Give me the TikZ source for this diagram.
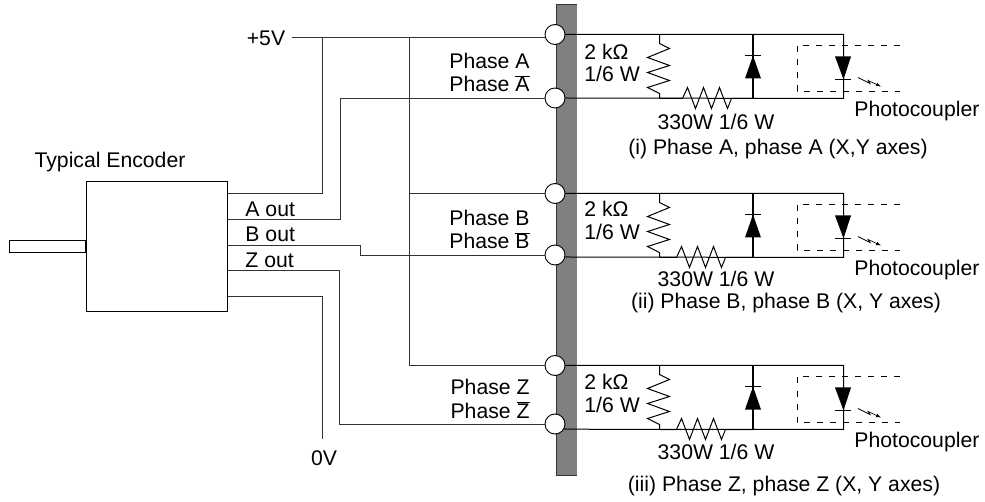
\documentclass[tikz,border=0pt]{standalone}
\usepackage{fontspec}
\setmainfont{Liberation Sans}
\begin{document}
\begin{tikzpicture}[x=1pt,y=-1pt,line width=0.9pt,
wire/.style = {draw=black!80},
load/.style = {draw=black, line width=1pt},
lbl/.style = {inner sep=0pt, anchor=base, font=\fontsize{21.2}{23}\selectfont},
pin/.style = {circle, draw, fill=white, inner sep=0pt, minimum size=20pt}]
\useasboundingbox (0,0) rectangle (985,502);

\fill[black!50] (556,4) rectangle (577,475);
\draw[wire] (556,475) -- (556,4) -- (577,4);
\draw[wire] (556,475) -- (577,475);

% one block per phase
\foreach \n/\t/\b/\ang/\dx/\two/\six/\ohm/\photo/\cx/\cy/\capt in {
A/34.5/98/0/0/53/75/123/110/778/148/{(i) Phase A, phase A (X,Y axes)},
B/193.5/255/-11/-6/210/233/280/269/786/302/{(ii) Phase B, phase B (X, Y axes)},
Z/365.5/424/-30/-6/382/405/452/440/784/484/{(iii) Phase Z, phase Z (X, Y axes)}}
{
	\node (pin\n t) at (555,\t) [pin] {};
	\node (pin\n b) at (555,\b) [pin] {};
	\coordinate (low\n) at (555,\t+64);
	\coordinate (corner\n) at (843.5,\t);

	\draw[load] (pin\n t) -- (corner\n) -- (corner\n |- low\n) -- (pin\n b.\ang);
	% shunt resistor
	\draw[load] (659.5,\t) -- ++(0,9) -- ++(10,5) -- ++(-22,9) -- ++(22,8) -- ++(-22,7) -- ++(22,8) -- ++(-22,7) -- ++(12,6) -- (659.5,\t+64);
	% series resistor
	\draw[load] (659.5,\t+64) -- ++(23+\dx,0) -- ++(5,-11) -- ++(8,21) -- ++(8,-21) -- ++(8,21) -- ++(8,-21) -- ++(8,21) -- ++(4,-10) -- (753,\t+64);
	% clamp diode
	\draw[line width=2pt] (753,\t) -- (753,\t+64);
	\fill (753,\t+21) -- (761,\t+44) -- (745,\t+44) -- cycle;
	\draw (745,\t+21) -- (761,\t+21);
	% photocoupler
	\draw[dash pattern=on 6pt off 7pt,line width=0.8pt] (900,\t+11) -- (797,\t+11) -- (797,\t+57) -- (900,\t+57);
	\fill (835,\t+22) -- (851,\t+22) -- (843.5,\t+45) -- cycle;
	\draw (835,\t+45) -- (851,\t+45);
	\draw[line width=0.7pt,-latex] (858,\t+43) -- (870,\t+49) -- (868,\t+46) -- (881,\t+52);

	\node (ph\n) at (530,\b-29.5) [lbl, anchor=base east] {Phase \n};
	\node (nph\n) at (530,\b-6) [lbl, anchor=base east] {Phase $\overline{\mbox{\n}}$};
	\node (two\n) at (584,\two+7) [lbl, anchor=base west] {2 kΩ};
	\node (six\n) at (584,\six+7) [lbl, anchor=base west] {1/6 W};
	\node (ohm\n) at (716,\ohm+7) [lbl] {330W 1/6 W};
	\node (photo\n) at (854,\photo+7) [lbl, anchor=base west] {Photocoupler};
	\node (cap\n) at (\cx,\cy+7) [lbl] {\capt};
}

\node (encoder) at (86,181) [draw, anchor=north west, minimum width=141pt, minimum height=130pt] {};
\node (shaft) at (9,240) [draw, anchor=north west, minimum width=77pt, minimum height=12pt, inner sep=0pt] {};
\draw[line width=1.6pt] (86,240) -- (86,252);
\node (title) at (110,168) [lbl] {Typical Encoder};
\node (aout) at (245,217) [lbl, anchor=base west] {A out};
\node (bout) at (245,242) [lbl, anchor=base west] {B out};
\node (zout) at (245,268) [lbl, anchor=base west] {Z out};
\node (plus) at (266,46) [lbl] {+5V};
\node (zero) at (324,465) [lbl] {0V};

\coordinate (supply) at (292,37);
\coordinate (ground) at (322,439);
\coordinate (rail) at (409.5,37);
\draw[wire] (supply) -- (supply -| pinAt.west);
\draw[wire] (322,37) |- (encoder.east |- 0,193);
\draw[wire] (rail) -- (409.5,365.5) -- (pinZt);
\draw[wire] (409.5,193.5) -- (pinBt);
\draw[wire] (pinAb) -- (340,98) |- (encoder.east |- 0,219);
\draw[wire] (encoder.east |- 0,245) -- (360,245) -- (360,255) -- (pinBb);
\draw[wire] (encoder.east |- 0,270) -- (339,270) |- (pinZb);
\draw[wire] (encoder.east |- 0,296) -| (ground);
\end{tikzpicture}
\end{document}
